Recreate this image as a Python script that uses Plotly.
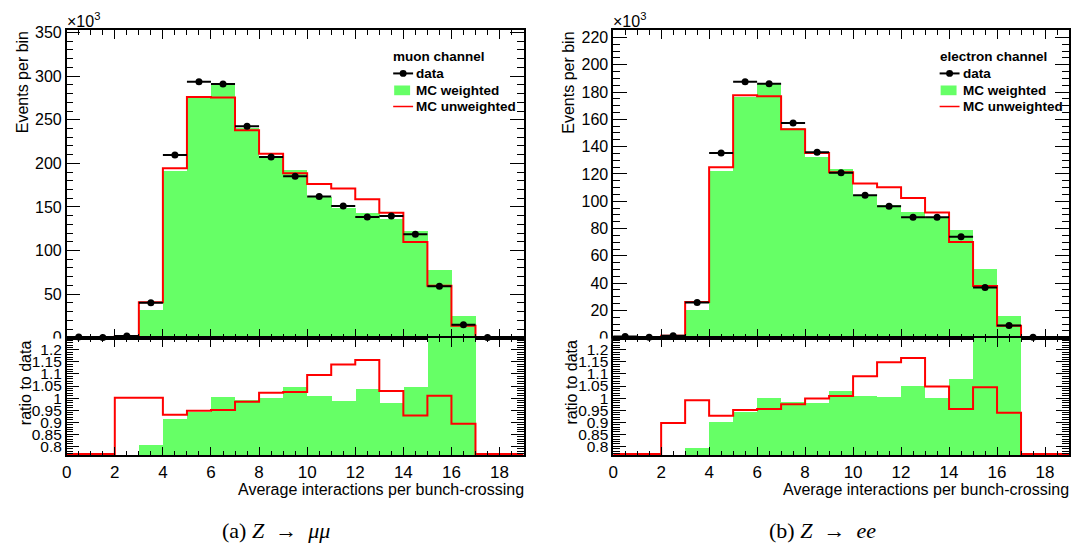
import plotly.graph_objects as go

# ---------------- data ----------------
bin_edges = list(range(0, 20))            # 0 .. 19
bin_centers = [i + 0.5 for i in range(19)]
x_ticks = list(range(0, 19, 2))

# muon channel (x10^3 events per bin)
mu_data = [1.0, 0.3, 2.0, 40.2, 209.5, 293.6, 291.0, 242.6, 207.3, 185.3,
           161.9, 151.1, 138.4, 139.6, 118.7, 59.2, 14.9, 0.4, None]
mu_mc_weighted = [0, 0, 0, 31.6, 191.3, 276.9, 291.0, 239.7, 206.5, 192.0,
                  161.5, 148.9, 142.2, 135.8, 122.4, 77.4, 24.2, 0, 0]
mu_mc_unweighted = [0, 0, 2.0, 40.6, 194.3, 276.1, 275.4, 237.8, 211.0, 188.7,
                    176.4, 171.2, 158.9, 143.3, 109.8, 59.5, 13.8, 0, 0]
mu_ratio_weighted = [0, 0, 0, 0.808, 0.914, 0.944, 1.006, 0.995, 1.001, 1.045,
                     1.011, 0.990, 1.040, 0.980, 1.045, 1.31, 1.62, 0, 0]
mu_ratio_unweighted = [0, 0, 1.001, 1.001, 0.931, 0.947, 0.951, 0.985, 1.022, 1.025,
                       1.096, 1.139, 1.158, 1.029, 0.928, 1.010, 0.894, 0, 0]

# electron channel (x10^3 events per bin)
el_data = [1.0, 0.3, 1.4, 25.9, 135.3, 187.6, 186.0, 157.4, 135.8, 120.8,
           104.4, 96.3, 88.2, 88.2, 74.0, 36.9, 9.0, 0.3, None]
el_mc_weighted = [0, 0, 0, 20.2, 121.8, 176.2, 185.3, 153.6, 132.5, 123.7,
                  104.4, 96.8, 91.8, 87.3, 79.0, 50.4, 15.9, 0, 0]
el_mc_unweighted = [0, 0, 1.4, 26.2, 124.9, 177.6, 176.9, 152.7, 135.3, 121.3,
                    113.0, 110.3, 102.3, 91.8, 70.2, 38.0, 8.8, 0, 0]
el_ratio_weighted = [0, 0, 0, 0.796, 0.902, 0.944, 1.003, 0.985, 0.980, 1.030,
                     1.011, 1.005, 1.051, 1.003, 1.080, 1.37, 1.77, 0, 0]
el_ratio_unweighted = [0, 0, 0.897, 0.991, 0.927, 0.951, 0.955, 0.974, 0.998, 1.009,
                       1.090, 1.149, 1.166, 1.048, 0.955, 1.045, 0.939, 0, 0]

ratio_tickvals = [0.8, 0.85, 0.9, 0.95, 1.0, 1.05, 1.1, 1.15, 1.2]
ratio_ticktext = ["0.8", "0.85", "0.9", "0.95", "1", "1.05", "1.1", "1.15", "1.2"]

# ---------------- layout geometry (pixels) ----------------
W, H = 1074, 554
def px(x):
    return x / W
def py(y):
    return 1 - y / H

PANELS = [(62, 521), (611, 1069)]
TOP = (25, 341)
RAT = (341, 462)
RATIO_RANGE = [0.762, 1.25]
GREEN = "#66ff66"
FONT = "Liberation Sans, Arial, sans-serif"
SERIF = "Liberation Serif, Times New Roman, serif"
SP = "\u2002"

fig = go.Figure()

def step_y(vals, floor=None):
    v = list(vals) + [vals[-1]]
    if floor is not None:
        v = [max(a, floor) for a in v]
    return v

channels = [
    dict(name="muon channel", data=mu_data, w=mu_mc_weighted, u=mu_mc_unweighted,
         rw=mu_ratio_weighted, ru=mu_ratio_unweighted, ymax=352.5, dtick=50, minor=10,
         caption="(a) <i>Z</i>" + SP + "→" + SP + "<i>μμ</i>"),
    dict(name="electron channel", data=el_data, w=el_mc_weighted, u=el_mc_unweighted,
         rw=el_ratio_weighted, ru=el_ratio_unweighted, ymax=225.2, dtick=20, minor=5,
         caption="(b) <i>Z</i>" + SP + "→" + SP + "<i>ee</i>"),
]

layout_axes = {}
shapes = []
annotations = []

def ann(**kw):
    d = dict(xref="paper", yref="paper", showarrow=False)
    d.update(kw)
    return d

for k, ch in enumerate(channels):
    top_i = 2 * k + 1
    rat_i = 2 * k + 2
    xt = "x" if top_i == 1 else f"x{top_i}"
    yt = "y" if top_i == 1 else f"y{top_i}"
    xr = f"x{rat_i}"
    yr = f"y{rat_i}"
    x0, x1 = PANELS[k]

    # ---- top panel ----
    fig.add_trace(go.Bar(x=bin_centers, y=ch["w"], width=1, xaxis=xt, yaxis=yt,
                         marker=dict(color=GREEN, line=dict(width=0)), showlegend=False))
    fig.add_trace(go.Scatter(x=bin_edges, y=step_y(ch["u"]), xaxis=xt, yaxis=yt, mode="lines",
                             line=dict(color="#ff0000", width=2, shape="hv"), showlegend=False))
    fig.add_trace(go.Scatter(x=bin_centers, y=ch["data"], xaxis=xt, yaxis=yt, mode="markers",
                             marker=dict(color="black", size=7),
                             error_x=dict(type="constant", value=0.5, color="black",
                                          thickness=2, width=0),
                             cliponaxis=False, showlegend=False))
    # ---- ratio panel ----
    fig.add_trace(go.Bar(x=bin_centers, y=ch["rw"], width=1, xaxis=xr, yaxis=yr,
                         marker=dict(color=GREEN, line=dict(width=0)), showlegend=False))
    fig.add_trace(go.Scatter(x=bin_edges, y=step_y(ch["ru"], floor=RATIO_RANGE[0] + 0.006),
                             xaxis=xr, yaxis=yr, mode="lines",
                             line=dict(color="#ff0000", width=2, shape="hv"), showlegend=False))

    common_x = dict(range=[0, 19], showline=True, linecolor="black", linewidth=1.5,
                    mirror="ticks", ticks="inside", ticklen=9, tickwidth=1, tickcolor="black",
                    tickmode="array", tickvals=x_ticks,
                    minor=dict(dtick=0.5, tick0=0, ticklen=4.5, ticks="inside", tickcolor="black"),
                    showgrid=False, zeroline=False,
                    domain=[px(x0), px(x1)])
    layout_axes["xaxis" if top_i == 1 else f"xaxis{top_i}"] = dict(
        common_x, anchor=yt, showticklabels=False, matches=xr)
    layout_axes[f"xaxis{rat_i}"] = dict(
        common_x, anchor=yr, showticklabels=True,
        tickfont=dict(family=FONT, size=17, color="black"))

    yvals = list(range(0, int(ch["ymax"]) + 1, ch["dtick"]))
    layout_axes["yaxis" if top_i == 1 else f"yaxis{top_i}"] = dict(
        range=[0, ch["ymax"]], anchor=xt, domain=[py(TOP[1]), py(TOP[0])],
        showline=True, linecolor="black", linewidth=1.5, mirror="ticks",
        ticks="inside", ticklen=14, tickwidth=1, tickcolor="black",
        tickmode="array", tickvals=yvals, ticktext=[str(v) for v in yvals],
        minor=dict(dtick=ch["minor"], tick0=0, ticklen=7, ticks="inside", tickcolor="black"),
        tickfont=dict(family=FONT, size=16, color="black"),
        showgrid=False, zeroline=False)
    layout_axes[f"yaxis{rat_i}"] = dict(
        range=RATIO_RANGE, anchor=xr, domain=[py(RAT[1]), py(RAT[0])],
        showline=True, linecolor="black", linewidth=1.5, mirror="ticks",
        ticks="inside", ticklen=13, tickwidth=1, tickcolor="black",
        tickmode="array", tickvals=ratio_tickvals, ticktext=ratio_ticktext,
        minor=dict(dtick=0.01, tick0=0, ticklen=7, ticks="inside", tickcolor="black"),
        tickfont=dict(family=FONT, size=15.5, color="black"),
        showgrid=False, zeroline=False)

    # hide the lower half of the top panel "0" label (cut by the ratio pad)
    shapes.append(dict(type="rect", xref="paper", yref="paper", layer="above",
                       x0=px(x0 - 22), x1=px(x0 - 2), y0=py(347), y1=py(341.8),
                       fillcolor="white", line=dict(width=0)))

    # ---- axis titles ----
    annotations += [
        ann(text="Events per bin", textangle=-90, x=px(x0 - 45), y=py(TOP[0] - 1),
            xanchor="center", yanchor="top", font=dict(family=FONT, size=16, color="black")),
        ann(text="ratio to data", textangle=-90, x=px(x0 - 42), y=py(RAT[0]),
            xanchor="center", yanchor="top", font=dict(family=FONT, size=16, color="black")),
        ann(text="Average interactions per bunch-crossing", x=px(x1 + 2), y=py(497),
            xanchor="right", yanchor="middle", font=dict(family=FONT, size=16, color="black")),
        ann(text="×10<sup>3</sup>", x=px(x0 - 2), y=py(27), xanchor="left", yanchor="bottom",
            font=dict(family=FONT, size=16, color="black")),
        ann(text=ch["caption"], x=px(272 + 549 * k), y=py(539), xanchor="center",
            yanchor="middle", font=dict(family=SERIF, size=22, color="black")),
    ]

    # ---- legend ----
    lx = x0 + 328
    annotations += [
        ann(text="<b>" + ch["name"] + "</b>", x=px(lx - 2), y=py(51.7), xanchor="left",
            yanchor="middle", font=dict(family=FONT, size=13.5, color="black")),
        ann(text="<b>data</b>", x=px(lx + 21), y=py(69.3), xanchor="left", yanchor="middle",
            font=dict(family=FONT, size=13.5, color="black")),
        ann(text="<b>MC weighted</b>", x=px(lx + 21), y=py(86.7), xanchor="left",
            yanchor="middle", font=dict(family=FONT, size=13.5, color="black")),
        ann(text="<b>MC unweighted</b>", x=px(lx + 21), y=py(103.3), xanchor="left",
            yanchor="middle", font=dict(family=FONT, size=13.5, color="black")),
    ]
    shapes += [
        dict(type="line", xref="paper", yref="paper", x0=px(lx), x1=px(lx + 20),
             y0=py(69.3), y1=py(69.3), line=dict(color="black", width=2)),
        dict(type="circle", xref="paper", yref="paper", x0=px(lx + 6.5), x1=px(lx + 13.5),
             y0=py(72.8), y1=py(65.8), fillcolor="black", line=dict(width=0)),
        dict(type="rect", xref="paper", yref="paper", x0=px(lx + 1), x1=px(lx + 17),
             y0=py(91.7), y1=py(81.7), fillcolor=GREEN, line=dict(width=0)),
        dict(type="line", xref="paper", yref="paper", x0=px(lx), x1=px(lx + 20),
             y0=py(103.3), y1=py(103.3), line=dict(color="#ff0000", width=1.5)),
    ]

fig.update_layout(
    width=W, height=H, margin=dict(l=0, r=0, t=0, b=0),
    paper_bgcolor="white", plot_bgcolor="white",
    barmode="overlay", bargap=0, showlegend=False,
    font=dict(family=FONT, color="black"),
    shapes=shapes, annotations=annotations,
    **layout_axes,
)

fig.write_html("out.html")
